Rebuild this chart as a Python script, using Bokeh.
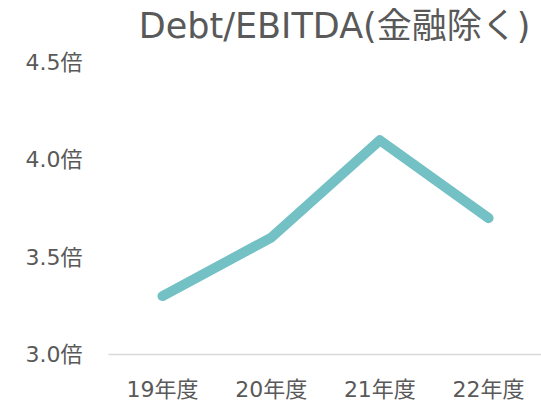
from bokeh.plotting import figure
from bokeh.models import Range1d, FixedTicker, Label
from bokeh.embed import file_html
from bokeh.resources import INLINE

categories = ["19年度", "20年度", "21年度", "22年度"]
values = [3.3, 3.6, 4.1, 3.7]
y_ticks = [3.0, 3.5, 4.0, 4.5]
y_tick_labels = ["3.0倍", "3.5倍", "4.0倍", "4.5倍"]
title_text = "Debt/EBITDA(金融除く)"

FONT = "DejaVu Sans, Noto Sans CJK JP"
GRAY = "#595959"

xs = list(range(len(categories)))

p = figure(width=541, height=404, output_backend="svg", toolbar_location=None,
           x_range=Range1d(-0.497, 3.487), y_range=Range1d(3.0, 4.817),
           min_border_left=108, min_border_right=0, min_border_top=0,
           min_border_bottom=49)
p.outline_line_color = None
p.xgrid.visible = False
p.ygrid.visible = False
p.background_fill_color = "white"
p.border_fill_color = "white"

p.line(xs, values, line_color="#73C0C5", line_width=10,
       line_cap="round", line_join="round")

# x axis
p.xaxis.ticker = FixedTicker(ticks=xs)
p.xaxis.major_label_overrides = {i: c for i, c in zip(xs, categories)}
p.xaxis.axis_line_color = "#D9D9D9"
p.xaxis.axis_line_width = 1.5
p.xaxis.major_tick_line_color = None
p.xaxis.minor_tick_line_color = None
p.xaxis.major_tick_out = 0
p.xaxis.major_tick_in = 0
p.xaxis.major_label_standoff = 22
p.xaxis.major_label_text_font = FONT
p.xaxis.major_label_text_font_size = "22px"
p.xaxis.major_label_text_color = GRAY

# y axis
p.yaxis.ticker = FixedTicker(ticks=y_ticks)
p.yaxis.major_label_overrides = {t: l for t, l in zip(y_ticks, y_tick_labels)}
p.yaxis.axis_line_color = None
p.yaxis.major_tick_line_color = None
p.yaxis.minor_tick_line_color = None
p.yaxis.major_tick_out = 0
p.yaxis.major_tick_in = 0
p.yaxis.major_label_standoff = 26
p.yaxis.major_label_text_font = FONT
p.yaxis.major_label_text_font_size = "22px"
p.yaxis.major_label_text_color = GRAY

title = Label(x=3.385, y=4.684, text=title_text, text_align="right",
              text_baseline="middle", text_font=FONT,
              text_font_size="35px", text_color=GRAY)
p.add_layout(title)

open("out.html", "w").write(file_html(p, INLINE))
